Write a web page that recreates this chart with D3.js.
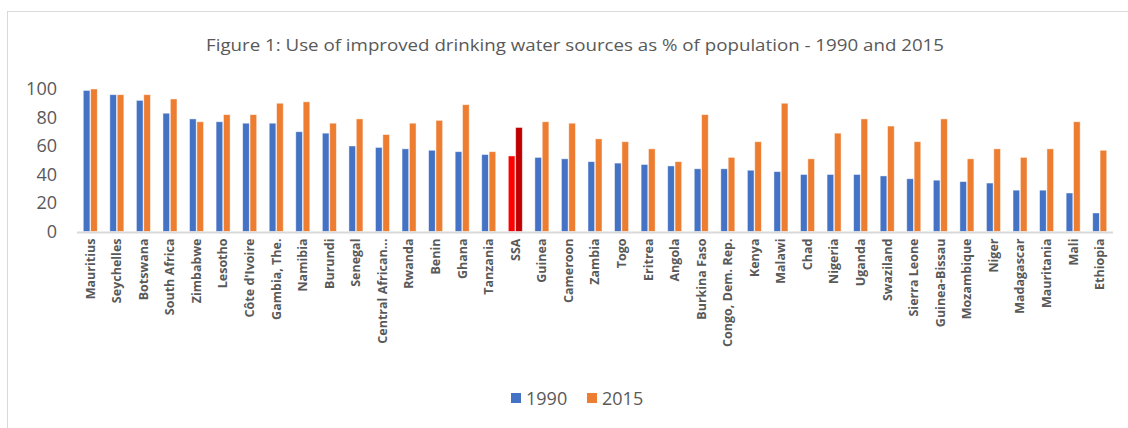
<!DOCTYPE html>
<html>
<head>
<meta charset="utf-8">
<script src="https://cdn.jsdelivr.net/npm/d3@7"></script>
<style>
  html, body { margin: 0; padding: 0; background: #fff; }
  svg { display: block; }
  text { font-family: "Open Sans", "Liberation Sans", sans-serif; fill: #595959; }
</style>
</head>
<body>
<svg id="chart" width="1128" height="428"></svg>
<script>
// Countries, with the Sub-Saharan Africa aggregate (SSA) in its ranked place
const countries = [
  "Mauritius", "Seychelles", "Botswana", "South Africa", "Zimbabwe", "Lesotho",
  "Côte d'Ivoire", "Gambia, The.", "Namibia", "Burundi", "Senegal", "Central African...",
  "Rwanda", "Benin", "Ghana", "Tanzania", "SSA", "Guinea", "Cameroon", "Zambia",
  "Togo", "Eritrea", "Angola", "Burkina Faso", "Congo, Dem. Rep.", "Kenya", "Malawi",
  "Chad", "Nigeria", "Uganda", "Swaziland", "Sierra Leone", "Guinea-Bissau",
  "Mozambique", "Niger", "Madagascar", "Mauritania", "Mali", "Ethiopia"
];
// % of population using improved drinking water sources
const values1990 = [
  99, 96, 92, 83, 79, 77, 76, 76, 70, 69, 60, 59,
  58, 57, 56, 54, 53, 52, 51, 49, 48, 47, 46, 44, 44, 43, 42,
  40, 40, 40, 39, 37, 36, 35, 34, 29, 29, 27, 13
];
const values2015 = [
  100, 96, 96, 93, 77, 82, 82, 90, 91, 76, 79, 68,
  76, 78, 89, 56, 73, 77, 76, 65, 63, 58, 49, 82, 52, 63, 90,
  51, 69, 79, 74, 63, 79, 51, 58, 52, 58, 77, 57
];
const years = ["1990", "2015"];
const yTicks = [0, 20, 40, 60, 80, 100];
const titleText = "Figure 1: Use of improved drinking water sources as % of population - 1990 and 2015";

const colors = { "1990": "#4472C4", "2015": "#ED7D31" };
const highlight = { "1990": "#FF0000", "2015": "#C00000" };

const svg = d3.select("#chart");
const plot = { left: 77, right: 1113, top: 89, bottom: 231.5 };

// chart frame
svg.append("rect")
  .attr("x", 7.5).attr("y", 11.5)
  .attr("width", 1300).attr("height", 600)
  .attr("fill", "none").attr("stroke", "#d9d9d9").attr("stroke-width", 1);

// title
svg.append("text")
  .attr("x", 575).attr("y", 51)
  .attr("text-anchor", "middle")
  .attr("font-size", 17)
  .attr("textLength", 738).attr("lengthAdjust", "spacingAndGlyphs")
  .text(titleText);

const x = d3.scaleBand().domain(countries).range([plot.left, plot.right]).paddingInner(0).paddingOuter(0);
const groupW = 14;
const x1 = d3.scaleBand().domain(years).range([0, groupW]).paddingInner(0.1);
const y = d3.scaleLinear().domain([0, 100]).range([plot.bottom, plot.top]);

// y axis labels (no axis line, no gridlines)
const yAxis = d3.axisLeft(y).tickValues(yTicks).tickSize(0).tickPadding(0);
const gy = svg.append("g").attr("transform", "translate(57,0)").call(yAxis);
gy.select(".domain").remove();
gy.selectAll("text")
  .attr("font-size", 18)
  .attr("fill", "#595959")
  .style("font-family", "'Open Sans', sans-serif");

// bars
const rows = countries.map((c, i) => ({ c, v: { "1990": values1990[i], "2015": values2015[i] } }));
const groups = svg.append("g").selectAll("g")
  .data(rows).join("g")
  .attr("transform", d => `translate(${x(d.c) + (x.bandwidth() - groupW) / 2},0)`);
groups.selectAll("rect")
  .data(d => years.map(yr => ({ c: d.c, yr, v: d.v[yr] })))
  .join("rect")
  .attr("x", d => x1(d.yr))
  .attr("y", d => y(d.v))
  .attr("width", x1.bandwidth())
  .attr("height", d => y(0) - y(d.v))
  .attr("fill", d => d.c === "SSA" ? highlight[d.yr] : colors[d.yr])
  .attr("stroke", "rgba(255,255,255,0.55)")
  .attr("stroke-width", 0.8);

// baseline
svg.append("line")
  .attr("x1", plot.left).attr("x2", plot.right)
  .attr("y1", plot.bottom + 1).attr("y2", plot.bottom + 1)
  .attr("stroke", "#d9d9d9").attr("stroke-width", 2);

// category labels, rotated
const xAxis = d3.axisBottom(x).tickSize(0).tickPadding(0);
const gx = svg.append("g").attr("transform", `translate(0,${plot.bottom})`).call(xAxis);
gx.select(".domain").remove();
gx.selectAll("text")
  .attr("transform", "rotate(-90)")
  .attr("x", -7).attr("y", 0).attr("dy", "0.35em")
  .attr("text-anchor", "end")
  .attr("font-size", 12.5)
  .attr("font-weight", "bold")
  .attr("fill", "#595959")
  .style("font-family", "'Open Sans', sans-serif");

// legend
const legend = svg.append("g");
const legendItems = [
  { yr: "1990", x: 511 },
  { yr: "2015", x: 587 }
];
legendItems.forEach(it => {
  legend.append("rect").attr("x", it.x).attr("y", 393).attr("width", 10).attr("height", 10).attr("fill", colors[it.yr]);
  legend.append("text").attr("x", it.x + 15).attr("y", 405).attr("font-size", 18).text(it.yr);
});
</script>
</body>
</html>
